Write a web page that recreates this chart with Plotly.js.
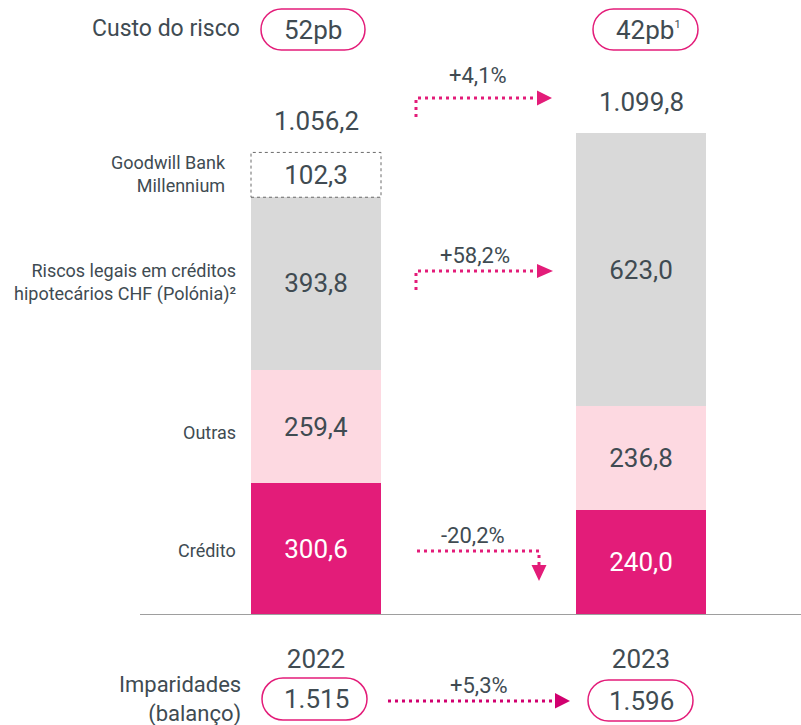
<!DOCTYPE html>
<html><head><meta charset="utf-8">
<script src="https://cdn.plot.ly/plotly-3.0.1.min.js"></script>
<style>body{margin:0;background:#fff}#chart{width:801px;height:725px}</style>
</head><body><div id="chart"></div>
<script>
// ---- data ----
const years = ['2022', '2023'];
const credito = [300.6, 240.0];
const outras = [259.4, 236.8];
const riscosLegais = [393.8, 623.0];
const goodwill = [102.3, null];
const totals = [1056.2, 1099.8];
const custoRisco = ['52pb', '42pb<sup><span style="font-size:11px">1</span></sup>'];
const imparidades = ['1.515', '1.596'];
const changes = ['+4,1%', '+58,2%', '-20,2%', '+5,3%'];
const seriesLabels = ['Crédito', 'Outras', 'Riscos legais em créditos<br>hipotecários CHF (Polónia)²', 'Goodwill Bank<br>Millennium'];
const leftTitles = ['Custo do risco', 'Imparidades<br>(balanço)'];

// ---- styling ----
const PINK = '#E31C79', LIGHT = '#FDD9E1', GREY = '#D9D9D9', TXT = '#404b52';
const FONT = 'Roboto, "Open Sans", sans-serif';
const W = 801, H = 725, MB = 110, PH = H - MB;

function fmt(v) {
  if (v === null || v === undefined) return '';
  let [i, d] = v.toFixed(1).split('.');
  i = i.replace(/\B(?=(\d{3})+(?!\d))/g, '.');
  return i + ',' + d;
}
// pixel -> paper
const PX = x => x / W;
const PY = y => (PH - y) / PH;

function barTrace(vals, color, txtColor, name) {
  const xs = [], ys = [];
  vals.forEach((v, i) => { if (v !== null) { xs.push(years[i]); ys.push(v); } });
  return {
    type: 'bar', x: xs, y: ys, name: name, width: 0.4,
    marker: {color: color, line: {width: 0}},
    text: ys.map(fmt), textposition: 'inside', insidetextanchor: 'middle',
    textangle: 0, constraintext: 'none',
    textfont: {family: FONT, size: 26, color: txtColor},
    hoverinfo: 'none', showlegend: false, cliponaxis: false
  };
}

const data = [
  barTrace(credito, PINK, '#ffffff', 'Crédito'),
  barTrace(outras, LIGHT, TXT, 'Outras'),
  barTrace(riscosLegais, GREY, TXT, 'Riscos legais'),
  barTrace(goodwill, '#ffffff', TXT, 'Goodwill')
];

const stackTop = years.map((_, i) => credito[i] + outras[i] + riscosLegais[i] + (goodwill[i] || 0));
const baseGw = credito[0] + outras[0] + riscosLegais[0];

function pill(x0, y0, x1, y1) {
  const r = (y1 - y0) / 2, k = 0.5523 * r;
  const pts = [
    ['M', x0 + r, y0], ['L', x1 - r, y0],
    ['C', x1 - r + k, y0, x1, y0 + r - k, x1, y0 + r],
    ['C', x1, y0 + r + k, x1 - r + k, y1, x1 - r, y1],
    ['L', x0 + r, y1],
    ['C', x0 + r - k, y1, x0, y0 + r + k, x0, y0 + r],
    ['C', x0, y0 + r - k, x0 + r - k, y0, x0 + r, y0]
  ];
  const path = pts.map(p => {
    let s = p[0];
    for (let j = 1; j < p.length; j += 2) s += (j > 1 ? ' ' : '') + PX(p[j]).toFixed(5) + ',' + PY(p[j + 1]).toFixed(5);
    return s;
  }).join(' ') + ' Z';
  return {type: 'path', xref: 'paper', yref: 'paper', path: path, line: {color: PINK, width: 1.5}, fillcolor: 'rgba(0,0,0,0)', layer: 'above'};
}
function pline(pts, color) {
  const path = pts.map((p, j) => (j ? 'L' : 'M') + PX(p[0]).toFixed(5) + ',' + PY(p[1]).toFixed(5)).join(' ');
  return {type: 'path', xref: 'paper', yref: 'paper', path: path, line: {color: color || PINK, width: 3, dash: '3px,4px'}, fillcolor: 'rgba(0,0,0,0)'};
}
function tri(pts, color) {
  const path = pts.map((p, j) => (j ? 'L' : 'M') + PX(p[0]).toFixed(5) + ',' + PY(p[1]).toFixed(5)).join(' ') + ' Z';
  return {type: 'path', xref: 'paper', yref: 'paper', path: path, line: {width: 0}, fillcolor: color || PINK};
}

const shapes = [
  // baseline
  {type: 'line', xref: 'paper', yref: 'y', x0: PX(140), x1: 1, y0: 0, y1: 0, line: {color: '#9e9e9e', width: 2}},
  // goodwill dashed box
  {type: 'rect', xref: 'x', yref: 'y', x0: -0.2, x1: 0.2, y0: baseGw, y1: baseGw + goodwill[0],
   line: {color: '#6b6b6b', width: 1, dash: 'dot'}, fillcolor: 'rgba(0,0,0,0)', layer: 'above'},
  // pills
  pill(261, 9, 365, 50), pill(593, 9, 698, 50),
  pill(262, 678, 367, 720), pill(588, 680, 693, 721),
  // arrow 1 (+4,1%)
  pline([[416, 117], [416, 98], [537, 98]]), tri([[537, 90.5], [552, 98], [537, 105.5]]),
  // arrow 2 (+58,2%)
  pline([[416, 290], [416, 271], [537, 271]]), tri([[537, 264], [553, 271], [537, 278]]),
  // arrow 3 (-20,2%)
  pline([[417, 551], [539, 551], [539, 565]]), tri([[531.5, 565], [546.5, 565], [539, 581]]),
  // arrow 4 (+5,3%)
  pline([[388, 701], [555, 701]], '#D1006F'), tri([[555, 693], [570, 701], [555, 708.5]], '#D1006F')
];

const ann = [];
function A(text, x, y, size, opts) {
  ann.push(Object.assign({text: text, xref: 'paper', yref: 'paper', x: PX(x), y: PY(y), showarrow: false,
    xanchor: 'center', yanchor: 'middle', font: {family: FONT, size: size, color: TXT}}, opts || {}));
}
A(leftTitles[0], 242, 29, 23, {xanchor: 'right'});
A(leftTitles[1], 243, 699, 22, {xanchor: 'right', align: 'right'});
// custo do risco & imparidades by year
years.forEach((y, i) => {
  ann.push({text: custoRisco[i], xref: 'x', yref: 'paper', x: i, y: PY(30), showarrow: false,
    xanchor: 'center', yanchor: 'middle', xshift: i === 1 ? 7 : -3, font: {family: FONT, size: 26, color: TXT}});
  ann.push({text: imparidades[i], xref: 'x', yref: 'paper', x: i, y: PY(i ? 701 : 699), showarrow: false,
    xanchor: 'center', yanchor: 'middle', font: {family: FONT, size: 26, color: TXT}});
  ann.push({text: fmt(totals[i]), xref: 'x', yref: 'y', x: i, y: stackTop[i], yshift: 31, showarrow: false,
    xanchor: 'center', yanchor: 'middle', font: {family: FONT, size: 26, color: TXT}});
});
// change labels
A(changes[0], 478, 75, 22);
A(changes[1], 475, 255, 22);
A(changes[2], 473, 535, 22);
A(changes[3], 479, 685, 22);
// series labels (left)
A(seriesLabels[3], 228, 174, 18, {xanchor: 'right', align: 'right'});
A(seriesLabels[2], 238, 282, 18, {xanchor: 'right', align: 'right'});
A(seriesLabels[1], 238, 432, 18, {xanchor: 'right'});
A(seriesLabels[0], 238, 550, 18, {xanchor: 'right'});

const layout = {
  width: W, height: H, margin: {l: 0, r: 0, t: 0, b: MB, pad: 0},
  paper_bgcolor: '#fff', plot_bgcolor: '#fff',
  barmode: 'stack', showlegend: false,
  font: {family: FONT, color: TXT},
  xaxis: {type: 'category', categoryarray: years, categoryorder: 'array', range: [-316 / 325, 485 / 325],
    showgrid: false, zeroline: false, showline: false,
    ticks: '', tickfont: {family: FONT, size: 26, color: TXT}, ticklabelstandoff: 26, fixedrange: true},
  yaxis: {range: [0, PH / 0.438], visible: false, fixedrange: true},
  shapes: shapes, annotations: ann
};
Plotly.newPlot('chart', data, layout, {staticPlot: true, displayModeBar: false});
</script></body></html>
